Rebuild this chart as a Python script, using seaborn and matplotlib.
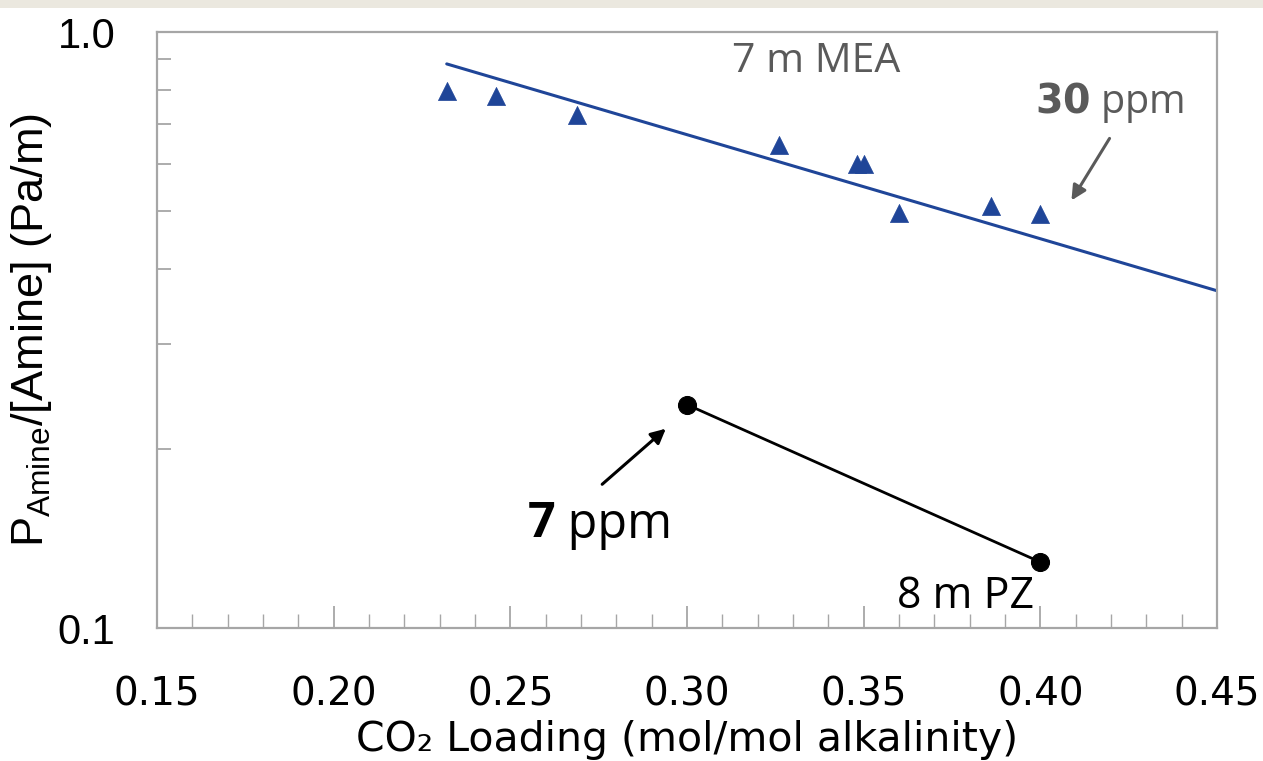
import matplotlib
matplotlib.use("Agg")
import matplotlib.pyplot as plt
import matplotlib.patches as mpatches
from matplotlib.ticker import MultipleLocator, LogLocator, FixedLocator, NullFormatter
import seaborn as sns
import pandas as pd

# ---- data ----
mea_loading = [0.232, 0.246, 0.269, 0.326, 0.348, 0.350, 0.360, 0.386, 0.400]
mea_ratio = [0.796, 0.781, 0.726, 0.646, 0.601, 0.601, 0.497, 0.511, 0.495]
fit_loading = [0.232, 0.450]
fit_ratio = [0.884, 0.368]
pz_loading = [0.300, 0.400]
pz_ratio = [0.237, 0.129]
x_ticks = [0.15, 0.20, 0.25, 0.30, 0.35, 0.40, 0.45]
x_ticklabels = ["0.15", "0.20", "0.25", "0.30", "0.35", "0.40", "0.45"]
y_ticks = [0.1, 1.0]
y_ticklabels = ["0.1", "1.0"]

mea_df = pd.DataFrame({"loading": mea_loading, "ratio": mea_ratio})
fit_df = pd.DataFrame({"loading": fit_loading, "ratio": fit_ratio})
pz_df = pd.DataFrame({"loading": pz_loading, "ratio": pz_ratio})

sns.set_style("ticks")
plt.rcParams["font.family"] = ["DejaVu Sans"]
plt.rcParams["mathtext.fontset"] = "custom"
plt.rcParams["mathtext.rm"] = "Liberation Sans"
plt.rcParams["mathtext.it"] = "Liberation Sans"
plt.rcParams["text.color"] = "black"
plt.rcParams["axes.labelcolor"] = "black"
plt.rcParams["xtick.labelcolor"] = "black"
plt.rcParams["ytick.labelcolor"] = "black"

blue = "#1f4598"
gray = "#5a5a5a"
spine_gray = "#a6a6a6"

fig = plt.figure(figsize=(12.63, 7.61), dpi=100)
fig.patches.append(mpatches.Rectangle((0, 1 - 8 / 761), 1, 8 / 761, transform=fig.transFigure,
                                      facecolor="#ebe8df", edgecolor="none", zorder=-1))
ax = fig.add_axes([157 / 1263, 1 - 628 / 761, (1217 - 157) / 1263, (628 - 32) / 761])

sns.lineplot(data=fit_df, x="loading", y="ratio", ax=ax, color=blue, linewidth=2.2, zorder=2)
sns.scatterplot(data=mea_df, x="loading", y="ratio", ax=ax, marker="^", s=170, color=blue,
                edgecolor=blue, linewidth=0.5, zorder=3)
sns.lineplot(data=pz_df, x="loading", y="ratio", ax=ax, color="black", linewidth=2.0,
             marker="o", markersize=13, markeredgecolor="black", zorder=3)

ax.set_yscale("log")
ax.set_xlim(0.15, 0.45)
ax.set_ylim(0.1, 1.0)

ax.xaxis.set_major_locator(FixedLocator(x_ticks))
ax.set_xticklabels(x_ticklabels)
ax.xaxis.set_minor_locator(MultipleLocator(0.01))
ax.yaxis.set_major_locator(FixedLocator(y_ticks))
ax.set_yticklabels(y_ticklabels, family="Liberation Sans")
ax.yaxis.set_minor_locator(LogLocator(base=10, subs=[0.2, 0.3, 0.4, 0.5, 0.6, 0.7, 0.8, 0.9]))
ax.yaxis.set_minor_formatter(NullFormatter())

ax.tick_params(axis="x", which="major", direction="in", length=16, width=1.3, color=spine_gray,
               labelsize=28, pad=34)
ax.tick_params(axis="x", which="minor", direction="in", length=10, width=1.0, color=spine_gray)
ax.tick_params(axis="y", which="major", direction="in", length=16, width=1.3, color=spine_gray,
               labelsize=30, pad=30)
ax.tick_params(axis="y", which="minor", direction="in", length=10, width=1.3, color=spine_gray)

for sp in ax.spines.values():
    sp.set_visible(True)
    sp.set_color(spine_gray)
    sp.set_linewidth(1.6)

ax.set_xlabel("CO₂ Loading (mol/mol alkalinity)", fontsize=29.5, labelpad=5)
ax.set_ylabel(r"P$_{\mathrm{Amine}}$/[Amine] (Pa/m)", fontsize=32.5, family="Liberation Sans")
ax.yaxis.set_label_coords(-0.097, 0.50)

# annotations
ax.text(0.3365, 0.891, "7 m MEA", color=gray, fontsize=29.5, family="Open Sans",
        ha="center", va="center")
ax.annotate("", xy=(0.4084, 0.517), xytext=(0.420, 0.669),
            arrowprops=dict(arrowstyle="-|>", color=gray, lw=2.2, mutation_scale=22))
ax.text(0.4197, 0.763, r"$\mathbf{30}$ ppm", color=gray, fontsize=28.5, family="Open Sans",
        ha="center", va="center")
ax.annotate("", xy=(0.2946, 0.2175), xytext=(0.2754, 0.173),
            arrowprops=dict(arrowstyle="-|>", color="black", lw=2.2, mutation_scale=22))
ax.text(0.2627, 0.149, "7", fontweight="bold", color="black", fontsize=35, family="Open Sans",
        ha="right", va="center")
ax.text(0.2627, 0.149, " ppm", color="black", fontsize=35, family="Open Sans",
        ha="left", va="center")
ax.text(0.3787, 0.1127, "8 m PZ", color="black", fontsize=31, family="Open Sans",
        ha="center", va="center")

fig.savefig("out.png", dpi=100)
